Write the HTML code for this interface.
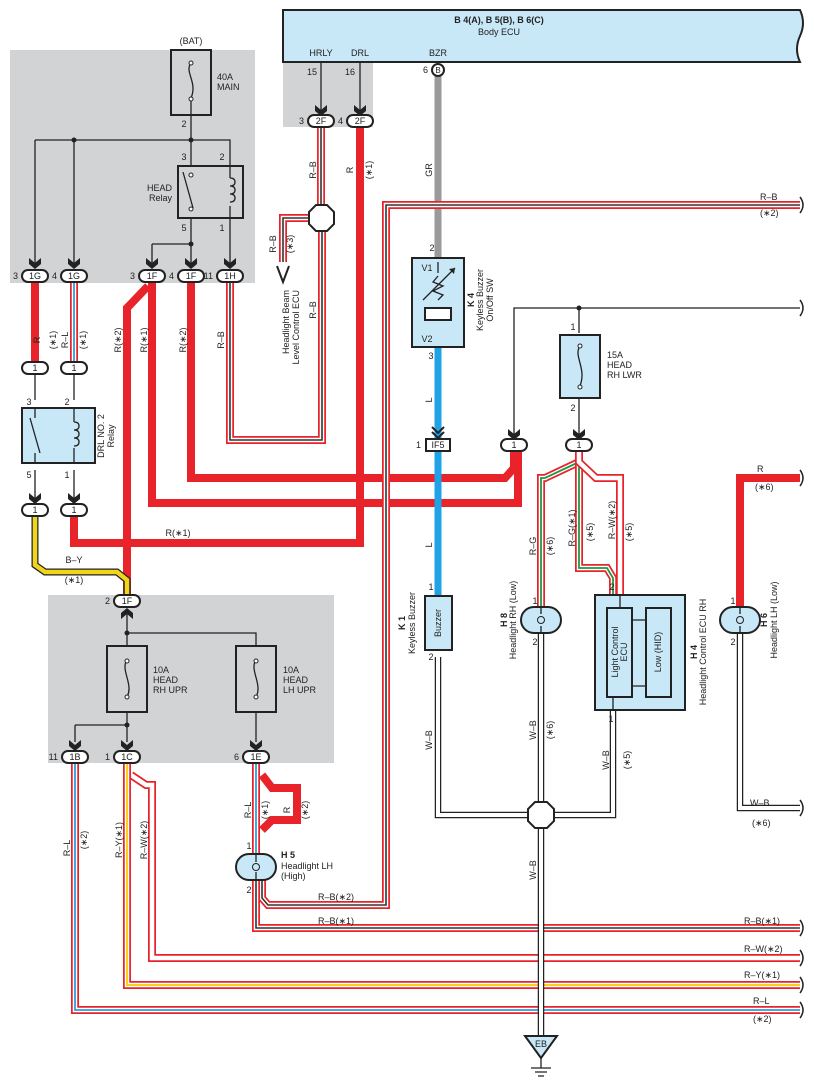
<!DOCTYPE html>
<html><head><meta charset="utf-8"><style>
html,body{margin:0;padding:0;background:#fff}
svg{display:block}
text{font-family:"Liberation Sans",sans-serif;font-size:9px;fill:#222}
.b{font-weight:bold}
.t{fill:none;stroke:#222;stroke-width:1.3}
.R{fill:none;stroke:#e8232a;stroke-width:8}
.so{fill:none;stroke:#e8232a;stroke-width:8}
.sw{fill:none;stroke:#fff;stroke-width:4.5}
.sk{fill:none;stroke:#333;stroke-width:1.6}
.sb{fill:none;stroke:#2a9ee0;stroke-width:1.8}
.sg{fill:none;stroke:#1a9a48;stroke-width:1.8}
.sy{fill:none;stroke:#f2d51a;stroke-width:2}
.wbo{fill:none;stroke:#222;stroke-width:6.5}
.wbi{fill:none;stroke:#fff;stroke-width:4}
.wbc{fill:none;stroke:#888;stroke-width:1}
.box{fill:#c8e8f8;stroke:#222;stroke-width:2}
.fb{fill:none;stroke:#222;stroke-width:2}
.cn{fill:#fff;stroke:#222;stroke-width:2}
</style></head><body>
<svg width="814" height="1089" viewBox="0 0 814 1089" xmlns="http://www.w3.org/2000/svg">
<defs>
<path id="ar" d="M-6,-11 L0,-6 L6,-11 L6,-5 L0,0 L-6,-5 Z" fill="#222"/>
<path id="p_rl1" d="M74,283 V362"/>
<path id="p_rb1h" d="M230,283 V440 H322 V231"/>
<path id="p_rb2f" d="M321,128 V205"/>
<path id="p_rboct" d="M308,218 H283 V262"/>
<path id="p_rb2" d="M800,205 H386 V905 H268 L262,898 V880"/>
<path id="p_rb1" d="M256,880 V928 H800"/>
<path id="p_rl1b" d="M75,764 V1010 H800"/>
<path id="p_ry" d="M127,764 V985 H800"/>
<path id="p_rw" d="M131,775 L146,785 H152 V958 H800"/>
<path id="p_rl1e" d="M256,764 V853"/>
<path id="p_rg" d="M579,452 V462 L545,478 H541 V608"/>
<path id="p_rg1" d="M579,452 V568 H607 L613,578 V595"/>
<path id="p_rw2" d="M579,452 V462 L596,478 H620 V595"/>
<path id="p_by" d="M35,517 V565 L45,572 H117 L127,580 V596"/>
</defs>

<!-- gray panels -->
<rect x="10" y="50" width="245" height="233" fill="#d2d3d5"/>
<rect x="283" y="62" width="90" height="65" fill="#d2d3d5"/>
<rect x="48" y="595" width="286" height="168" fill="#d2d3d5"/>

<!-- Body ECU -->
<path d="M283,10 H800 Q806,23 800,36 Q794,49 800,62 H283 Z" class="box"/>
<text x="499" y="23" class="b" text-anchor="middle">B 4(A), B 5(B), B 6(C)</text>
<text x="499" y="35" text-anchor="middle">Body ECU</text>
<text x="321" y="56" text-anchor="middle">HRLY</text>
<text x="360" y="56" text-anchor="middle">DRL</text>
<text x="438" y="56" text-anchor="middle">BZR</text>
<text x="312" y="75" text-anchor="middle">15</text>
<text x="350" y="75" text-anchor="middle">16</text>
<path class="t" d="M321,62 V112 M360,62 V112"/>
<use href="#ar" x="321" y="116"/><use href="#ar" x="360" y="116"/>

<!-- Top left fuse/relay -->
<text x="191" y="44" text-anchor="middle">(BAT)</text>
<rect x="171" y="50" width="40" height="65" class="fb"/>
<path class="t" d="M191,63 C184,72 198,82 191,98"/>
<circle cx="191" cy="63" r="2" fill="#fff" stroke="#222"/><circle cx="191" cy="99" r="2" fill="#fff" stroke="#222"/>
<text x="217" y="80">40A</text><text x="217" y="90">MAIN</text>
<text x="184" y="127" text-anchor="middle">2</text>
<path class="t" d="M191,101 V244 M35,140 H230 V218 M35,140 V265 M74,140 V265 M230,218 V265 M191,244 V265 M152,244 H191 M152,244 V265"/>
<circle cx="74" cy="140" r="2.5" fill="#222"/><circle cx="191" cy="140" r="2.5" fill="#222"/><circle cx="191" cy="244" r="2.5" fill="#222"/>
<rect x="178" y="166" width="65" height="52" fill="#d2d3d5" stroke="#222" stroke-width="2"/>
<path class="t" d="M183,172 L193,208 M230,166 V178 M230,206 V218"/>
<path class="t" d="M230,178 q5,0 5,4 q0,4 -5,4 q5,0 5,4 q0,4 -5,4 q5,0 5,4 q0,4 -5,4"/>
<circle cx="191" cy="175" r="2" fill="#fff" stroke="#222"/><circle cx="191" cy="209" r="2" fill="#fff" stroke="#222"/>
<text x="184" y="160" text-anchor="middle">3</text><text x="222" y="160" text-anchor="middle">2</text>
<text x="184" y="231" text-anchor="middle">5</text><text x="222" y="231" text-anchor="middle">1</text>
<text x="172" y="191" text-anchor="end">HEAD</text><text x="172" y="201" text-anchor="end">Relay</text>
<use href="#ar" x="35" y="269"/><use href="#ar" x="74" y="269"/><use href="#ar" x="152" y="269"/><use href="#ar" x="191" y="269"/><use href="#ar" x="230" y="269"/>

<!-- thick red wires -->
<path class="R" d="M35,283 V362"/>
<path class="R" d="M74,517 V543 H360 V128"/>
<path class="R" d="M191,283 V478 H505 L514,468 V452"/>
<path class="R" d="M152,283 V503 H518 V452"/>
<path class="R" d="M148,286 L127,308 V596"/>
<path class="R" d="M800,478 H740 V610"/>
<path class="R" d="M262,775 L272,788 H297 V820 H272 L262,830"/>

<!-- gray / blue -->
<path d="M438,72 V258" stroke="#9a9a9a" stroke-width="7" fill="none"/>
<path d="M438,347 V596" stroke="#1fa3e6" stroke-width="7" fill="none"/>

<!-- striped wires -->
<use href="#p_rl1" class="so"/><use href="#p_rl1" class="sw"/><use href="#p_rl1" class="sb"/>
<use href="#p_rb1h" class="so"/><use href="#p_rb1h" class="sw"/><use href="#p_rb1h" class="sk"/>
<use href="#p_rb2f" class="so"/><use href="#p_rb2f" class="sw"/><use href="#p_rb2f" class="sk"/>
<use href="#p_rboct" class="so"/><use href="#p_rboct" class="sw"/><use href="#p_rboct" class="sk"/>
<use href="#p_rb2" class="so"/><use href="#p_rb2" class="sw"/><use href="#p_rb2" class="sk"/>
<use href="#p_rb1" class="so"/><use href="#p_rb1" class="sw"/><use href="#p_rb1" class="sk"/>
<use href="#p_rl1b" class="so"/><use href="#p_rl1b" class="sw"/><use href="#p_rl1b" class="sb"/>
<use href="#p_rw" class="so"/><use href="#p_rw" class="sw"/>
<use href="#p_ry" class="so"/><use href="#p_ry" class="sw"/><use href="#p_ry" class="sy"/>
<use href="#p_rl1e" class="so"/><use href="#p_rl1e" class="sw"/><use href="#p_rl1e" class="sb"/>
<use href="#p_rg" class="so"/><use href="#p_rg" class="sw"/><use href="#p_rg" class="sg"/>
<use href="#p_rg1" class="so"/><use href="#p_rg1" class="sw"/><use href="#p_rg1" class="sg"/>
<use href="#p_rw2" class="so"/><use href="#p_rw2" class="sw"/>
<path d="M35,517 V565 L45,572 H117 L127,580 V596" fill="none" stroke="#222" stroke-width="7"/>
<use href="#p_by" class="sy" style="stroke-width:4.5"/>

<!-- W-B -->
<path id="wb" d="M438,657 V815 H528 M541,632 V802 M613,710 V815 H554 M541,828 V1035 M740,632 V808 H800" class="wbo"/>
<path d="M438,657 V815 H528 M541,632 V802 M613,710 V815 H554 M541,828 V1035 M740,632 V808 H800" class="wbi"/>

<!-- octagons -->
<polygon points="316,205 327,205 334,212 334,224 327,231 316,231 309,224 309,212" fill="#fff" stroke="#222" stroke-width="2"/>
<polygon points="535,802 547,802 554,809 554,821 547,828 535,828 528,821 528,809" fill="#fff" stroke="#222" stroke-width="2"/>
<!-- hollow arrow -->
<path d="M277,266 L283,282 L289,266" fill="none" stroke="#222" stroke-width="2"/>
<text transform="translate(276,244) rotate(-90)" text-anchor="middle">R–B</text>
<text transform="translate(293,244) rotate(-90)" text-anchor="middle">(∗3)</text>
<text transform="translate(289,290) rotate(-90)" text-anchor="end">Headlight Beam</text>
<text transform="translate(299,290) rotate(-90)" text-anchor="end">Level Control ECU</text>
<text transform="translate(316,170) rotate(-90)" text-anchor="middle">R–B</text>
<text transform="translate(316,310) rotate(-90)" text-anchor="middle">R–B</text>
<text transform="translate(353,170) rotate(-90)" text-anchor="middle">R</text>
<text transform="translate(372,170) rotate(-90)" text-anchor="middle">(∗1)</text>
<text transform="translate(432,170) rotate(-90)" text-anchor="middle">GR</text>

<!-- connectors top -->
<g>
<rect x="308" y="115" width="26" height="12" rx="6" class="cn"/><text x="321" y="124" text-anchor="middle">2F</text><text x="304" y="124" text-anchor="end">3</text>
<rect x="347" y="115" width="26" height="12" rx="6" class="cn"/><text x="360" y="124" text-anchor="middle">2F</text><text x="343" y="124" text-anchor="end">4</text>
<circle cx="438" cy="70" r="6" class="cn"/><text x="438" y="73" text-anchor="middle" style="font-size:8px">B</text><text x="428" y="73" text-anchor="end">6</text>
<rect x="22" y="270" width="26" height="12" rx="6" class="cn"/><text x="35" y="279" text-anchor="middle">1G</text><text x="18" y="279" text-anchor="end">3</text>
<rect x="61" y="270" width="26" height="12" rx="6" class="cn"/><text x="74" y="279" text-anchor="middle">1G</text><text x="57" y="279" text-anchor="end">4</text>
<rect x="139" y="270" width="26" height="12" rx="6" class="cn"/><text x="152" y="279" text-anchor="middle">1F</text><text x="135" y="279" text-anchor="end">3</text>
<rect x="178" y="270" width="26" height="12" rx="6" class="cn"/><text x="191" y="279" text-anchor="middle">1F</text><text x="174" y="279" text-anchor="end">4</text>
<rect x="217" y="270" width="26" height="12" rx="6" class="cn"/><text x="230" y="279" text-anchor="middle">1H</text><text x="213" y="279" text-anchor="end">11</text>
</g>
<text transform="translate(40,340) rotate(-90)" text-anchor="middle">R</text>
<text transform="translate(56,340) rotate(-90)" text-anchor="middle">(∗1)</text>
<text transform="translate(68,340) rotate(-90)" text-anchor="middle">R–L</text>
<text transform="translate(86,340) rotate(-90)" text-anchor="middle">(∗1)</text>
<text transform="translate(121,340) rotate(-90)" text-anchor="middle">R(∗2)</text>
<text transform="translate(147,340) rotate(-90)" text-anchor="middle">R(∗1)</text>
<text transform="translate(186,340) rotate(-90)" text-anchor="middle">R(∗2)</text>
<text transform="translate(224,340) rotate(-90)" text-anchor="middle">R–B</text>

<!-- DRL relay -->
<rect x="22" y="362" width="26" height="12" rx="6" class="cn"/><text x="35" y="371" text-anchor="middle">1</text>
<rect x="61" y="362" width="26" height="12" rx="6" class="cn"/><text x="74" y="371" text-anchor="middle">1</text>
<path class="t" d="M35,374 V400 M74,374 V400 M35,470 V500 M74,470 V500"/>
<text x="29" y="405" text-anchor="middle">3</text><text x="67" y="405" text-anchor="middle">2</text>
<text x="29" y="478" text-anchor="middle">5</text><text x="67" y="478" text-anchor="middle">1</text>
<rect x="22" y="408" width="73" height="55" class="box"/>
<path class="t" d="M30,418 L40,453 M35,408 V418 M35,453 V463 M74,408 V422 M74,448 V463"/>
<path class="t" d="M74,422 q5,0 5,4 q0,4 -5,4 q5,0 5,4 q0,4 -5,4 q5,0 5,4 q0,4 -5,4"/>
<text transform="translate(104,436) rotate(-90)" text-anchor="middle">DRL NO. 2</text>
<text transform="translate(114,436) rotate(-90)" text-anchor="middle">Relay</text>
<use href="#ar" x="35" y="504"/><use href="#ar" x="74" y="504"/>
<rect x="22" y="504" width="26" height="12" rx="6" class="cn"/><text x="35" y="513" text-anchor="middle">1</text>
<rect x="61" y="504" width="26" height="12" rx="6" class="cn"/><text x="74" y="513" text-anchor="middle">1</text>
<text x="178" y="536" text-anchor="middle">R(∗1)</text>
<text x="74" y="563" text-anchor="middle">B–Y</text>
<text x="74" y="583" text-anchor="middle">(∗1)</text>

<!-- K4 -->
<text transform="translate(431,170) rotate(0)"></text>
<text x="432" y="251" text-anchor="middle">2</text>
<rect x="412" y="258" width="52" height="89" class="box"/>
<text x="427" y="271" text-anchor="middle">V1</text><text x="427" y="342" text-anchor="middle">V2</text>
<path class="t" d="M438,262 V273 M423,300 L455,268 M438,276 L433,282 L443,286 L433,291 L443,295 L438,300"/>
<path d="M455,268 l-6,1 l5,5 z" fill="#222"/>
<rect x="425" y="308" width="26" height="12" fill="#fff" stroke="#222" stroke-width="2"/>
<text x="431" y="359" text-anchor="middle">3</text>
<text transform="translate(474,300) rotate(-90)" text-anchor="middle" class="b">K 4</text>
<text transform="translate(483,300) rotate(-90)" text-anchor="middle">Keyless Buzzer</text>
<text transform="translate(493,300) rotate(-90)" text-anchor="middle">On/Off SW</text>
<text transform="translate(432,400) rotate(-90)" text-anchor="middle">L</text>
<text transform="translate(432,545) rotate(-90)" text-anchor="middle">L</text>
<path d="M432,427 L438,433 L444,427 M432,432 L438,438 L444,432" fill="none" stroke="#222" stroke-width="2"/>
<rect x="426" y="439" width="24" height="12" fill="#fff" stroke="#222" stroke-width="2"/><text x="438" y="448" text-anchor="middle">IF5</text><text x="421" y="448" text-anchor="end">1</text>
<text x="431" y="590" text-anchor="middle">1</text>
<rect x="425" y="596" width="27" height="54" class="box"/>
<text transform="translate(441,623) rotate(-90)" text-anchor="middle">Buzzer</text>
<text x="431" y="660" text-anchor="middle">2</text>
<text transform="translate(405,623) rotate(-90)" text-anchor="middle" class="b">K 1</text>
<text transform="translate(415,623) rotate(-90)" text-anchor="middle">Keyless Buzzer</text>

<!-- right top -->
<path class="t" d="M514,434 V308 H800 M579,398 V434 M579,308 V333"/>
<circle cx="579" cy="308" r="2.5" fill="#222"/>
<path d="M800,300 q6,8 0,16" fill="none" stroke="#222" stroke-width="1.5"/>
<use href="#ar" x="514" y="440"/><use href="#ar" x="579" y="440"/>
<rect x="501" y="439" width="26" height="12" rx="6" class="cn"/><text x="514" y="448" text-anchor="middle">1</text>
<rect x="566" y="439" width="26" height="12" rx="6" class="cn"/><text x="579" y="448" text-anchor="middle">1</text>
<text x="573" y="330" text-anchor="middle">1</text><text x="573" y="411" text-anchor="middle">2</text>
<rect x="560" y="335" width="40" height="63" class="box"/>
<path class="t" d="M580,346 C573,356 587,368 580,386"/>
<circle cx="580" cy="346" r="2" fill="#fff" stroke="#222"/><circle cx="580" cy="387" r="2" fill="#fff" stroke="#222"/>
<text x="607" y="358">15A</text><text x="607" y="368">HEAD</text><text x="607" y="378">RH LWR</text>
<text x="760" y="200">R–B</text><text x="760" y="216">(∗2)</text>
<path d="M800,197 q6,8 0,16" fill="none" stroke="#222" stroke-width="1.5"/>
<text x="757" y="472">R</text><text x="755" y="490">(∗6)</text>
<path d="M800,470 q6,8 0,16" fill="none" stroke="#222" stroke-width="1.5"/>
<text transform="translate(536,546) rotate(-90)" text-anchor="middle">R–G</text>
<text transform="translate(553,546) rotate(-90)" text-anchor="middle">(∗6)</text>
<text transform="translate(575,528) rotate(-90)" text-anchor="middle">R–G(∗1)</text>
<text transform="translate(593,532) rotate(-90)" text-anchor="middle">(∗5)</text>
<text transform="translate(615,520) rotate(-90)" text-anchor="middle">R–W(∗2)</text>
<text transform="translate(632,532) rotate(-90)" text-anchor="middle">(∗5)</text>
<text x="612" y="590" text-anchor="middle">2</text>

<!-- H8 -->
<text x="535" y="604" text-anchor="middle">1</text>
<rect x="521" y="607" width="40" height="26" rx="13" class="box"/>
<path class="t" d="M541,607 V614 M541,626 V633"/><circle cx="541" cy="620" r="3.5" fill="none" stroke="#222"/>
<text x="535" y="645" text-anchor="middle">2</text>
<text transform="translate(507,620) rotate(-90)" text-anchor="middle" class="b">H 8</text>
<text transform="translate(516,620) rotate(-90)" text-anchor="middle">Headlight RH (Low)</text>

<!-- H4 -->
<rect x="595" y="595" width="90" height="115" class="box"/>
<rect x="607" y="608" width="25" height="89" fill="#c8e8f8" stroke="#222" stroke-width="2"/>
<rect x="646" y="608" width="25" height="89" fill="#c8e8f8" stroke="#222" stroke-width="2"/>
<path class="t" d="M620,595 V608 M632,620 H646 M632,686 H646 M613,697 V710"/>
<text transform="translate(618,652) rotate(-90)" text-anchor="middle">Light Control</text>
<text transform="translate(627,652) rotate(-90)" text-anchor="middle">ECU</text>
<text transform="translate(661,652) rotate(-90)" text-anchor="middle">Low (HID)</text>
<text x="611" y="722" text-anchor="middle">1</text>
<text transform="translate(697,652) rotate(-90)" text-anchor="middle" class="b">H 4</text>
<text transform="translate(706,652) rotate(-90)" text-anchor="middle">Headlight Control ECU RH</text>

<!-- H6 -->
<text x="733" y="604" text-anchor="middle">1</text>
<rect x="720" y="607" width="40" height="26" rx="13" class="box"/>
<path class="t" d="M740,607 V614 M740,626 V633"/><circle cx="740" cy="620" r="3.5" fill="none" stroke="#222"/>
<text x="733" y="645" text-anchor="middle">2</text>
<text transform="translate(767,620) rotate(-90)" text-anchor="middle" class="b">H 6</text>
<text transform="translate(777,620) rotate(-90)" text-anchor="middle">Headlight LH (Low)</text>
<text x="750" y="806">W–B</text><text x="752" y="826">(∗6)</text>
<path d="M800,800 q6,8 0,16" fill="none" stroke="#222" stroke-width="1.5"/>

<!-- W-B labels & ground -->
<text transform="translate(536,730) rotate(-90)" text-anchor="middle">W–B</text>
<text transform="translate(553,730) rotate(-90)" text-anchor="middle">(∗6)</text>
<text transform="translate(609,760) rotate(-90)" text-anchor="middle">W–B</text>
<text transform="translate(630,760) rotate(-90)" text-anchor="middle">(∗5)</text>
<text transform="translate(432,740) rotate(-90)" text-anchor="middle">W–B</text>
<text transform="translate(536,870) rotate(-90)" text-anchor="middle">W–B</text>
<polygon points="525,1036 557,1036 541,1058" fill="#c8e8f8" stroke="#222" stroke-width="2"/>
<text x="541" y="1047" text-anchor="middle">EB</text>
<path class="t" d="M541,1058 V1068 M531,1068 H551 M535,1072 H547 M538,1076 H544"/>

<!-- lower gray box content -->
<rect x="114" y="595" width="26" height="12" rx="6" class="cn"/><text x="127" y="604" text-anchor="middle">1F</text><text x="110" y="604" text-anchor="end">2</text>
<path d="M121,619 L127,614 L133,619 L133,613 L127,608 L121,613 Z" fill="#222"/>
<path class="t" d="M127,614 V742 M127,633 H256 V742 M75,725 H127 M75,725 V742"/>
<circle cx="127" cy="633" r="2.5" fill="#222"/><circle cx="127" cy="725" r="2.5" fill="#222"/>
<rect x="107" y="646" width="40" height="66" fill="#d2d3d5" stroke="#222" stroke-width="2"/>
<rect x="236" y="646" width="40" height="66" fill="#d2d3d5" stroke="#222" stroke-width="2"/>
<path d="M127,660 C120,670 134,684 127,697 M256,660 C249,670 263,684 256,697" fill="none" stroke="#222" stroke-width="1.3"/>
<circle cx="127" cy="661" r="2" fill="#fff" stroke="#222"/><circle cx="127" cy="697" r="2" fill="#fff" stroke="#222"/>
<circle cx="256" cy="661" r="2" fill="#fff" stroke="#222"/><circle cx="256" cy="697" r="2" fill="#fff" stroke="#222"/>
<text x="153" y="673">10A</text><text x="153" y="683">HEAD</text><text x="153" y="693">RH UPR</text>
<text x="283" y="673">10A</text><text x="283" y="683">HEAD</text><text x="283" y="693">LH UPR</text>
<use href="#ar" x="75" y="751"/><use href="#ar" x="127" y="751"/><use href="#ar" x="256" y="751"/>
<rect x="62" y="751" width="26" height="12" rx="6" class="cn"/><text x="75" y="760" text-anchor="middle">1B</text><text x="58" y="760" text-anchor="end">11</text>
<rect x="114" y="751" width="26" height="12" rx="6" class="cn"/><text x="127" y="760" text-anchor="middle">1C</text><text x="110" y="760" text-anchor="end">1</text>
<rect x="243" y="751" width="26" height="12" rx="6" class="cn"/><text x="256" y="760" text-anchor="middle">1E</text><text x="239" y="760" text-anchor="end">6</text>

<text transform="translate(70,848) rotate(-90)" text-anchor="middle">R–L</text>
<text transform="translate(87,840) rotate(-90)" text-anchor="middle">(∗2)</text>
<text transform="translate(122,840) rotate(-90)" text-anchor="middle">R–Y(∗1)</text>
<text transform="translate(147,840) rotate(-90)" text-anchor="middle">R–W(∗2)</text>
<text transform="translate(251,810) rotate(-90)" text-anchor="middle">R–L</text>
<text transform="translate(268,810) rotate(-90)" text-anchor="middle">(∗1)</text>
<text transform="translate(290,810) rotate(-90)" text-anchor="middle">R</text>
<text transform="translate(308,810) rotate(-90)" text-anchor="middle">(∗2)</text>

<!-- H5 -->
<text x="249" y="849" text-anchor="middle">1</text>
<rect x="236" y="854" width="40" height="26" rx="13" class="box"/>
<path class="t" d="M256,854 V862 M256,872 V880"/><circle cx="256" cy="867" r="3.5" fill="none" stroke="#222"/>
<text x="249" y="893" text-anchor="middle">2</text>
<text x="281" y="858" class="b">H 5</text>
<text x="281" y="869">Headlight LH</text><text x="281" y="879">(High)</text>
<text x="318" y="900">R–B(∗2)</text>
<text x="318" y="924">R–B(∗1)</text>

<!-- right labels -->
<text x="744" y="924">R–B(∗1)</text>
<text x="744" y="952">R–W(∗2)</text>
<text x="744" y="978">R–Y(∗1)</text>
<text x="753" y="1004">R–L</text>
<text x="753" y="1022">(∗2)</text>
<path d="M800,920 q6,8 0,16 M800,950 q6,8 0,16 M800,977 q6,8 0,16 M800,1002 q6,8 0,16" fill="none" stroke="#222" stroke-width="1.5"/>
</svg>
</body></html>
